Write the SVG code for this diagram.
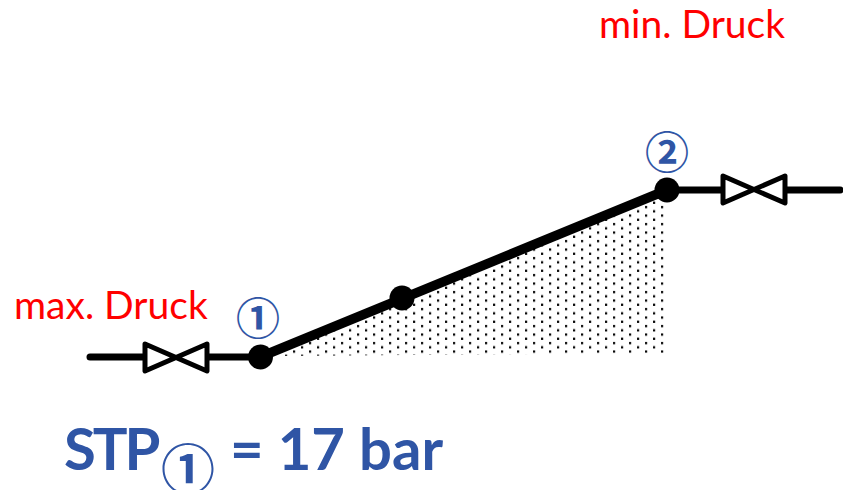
<svg xmlns="http://www.w3.org/2000/svg" width="843" height="490" viewBox="0 0 843 490">
<style>
.red{font-family:"Lato","Liberation Sans",sans-serif;font-size:39px;fill:#ff0000}
.circ{font-family:"Noto Sans CJK JP","DejaVu Sans",sans-serif;fill:#2f55a5;text-anchor:middle;font-weight:700}
.big{font-family:"Lato","Liberation Sans",sans-serif;font-size:58px;font-weight:700;fill:#2f55a5}
.pipe{fill:none;stroke:#000;stroke-width:7;stroke-linecap:round}
.valve{fill:#fff;stroke:#000;stroke-width:5;stroke-linejoin:round}
</style>
<defs>
<pattern id="dots" patternUnits="userSpaceOnUse" width="16" height="8.5">
<rect x="5" y="2" width="2.2" height="2.2" fill="#000"/>
<rect x="13" y="6.2" width="2.2" height="2.2" fill="#000"/>
</pattern>
</defs>
<polygon id="shade" points="268,356 665,192 665,353 268,356" fill="url(#dots)"/>
<g id="connectors">
<path class="pipe" d="M90 357H146"/>
<path class="pipe" d="M205 357H260"/>
<path class="pipe" style="stroke-width:9.5;stroke-linecap:butt" d="M260 357L667 190"/>
<path class="pipe" d="M667 190H724"/>
<path class="pipe" d="M784 190H840"/>
</g>
<g id="valve-left"><path class="valve" d="M145 344L207 371V344L145 371Z"/></g>
<g id="valve-right"><path class="valve" d="M723 176L785 203V176L723 203Z"/></g>
<g id="node-1"><circle cx="260.5" cy="357" r="12.5"/><text class="circ" x="258" y="335" font-size="44">①</text></g>
<g id="node-mid"><circle cx="402" cy="298" r="12.5"/></g>
<g id="node-2"><circle cx="667" cy="190" r="12.5"/><text class="circ" x="667" y="169" font-size="44">②</text></g>
<g id="labels">
<text class="red" x="14" y="319">max. Druck</text>
<text class="red" x="599" y="38">min. Druck</text>
<text class="big" x="64" y="470" letter-spacing="-3">STP</text>
<text class="circ" x="188" y="490" font-size="54">①</text>
<text class="big" x="230" y="470">= 17 bar</text>
</g>
</svg>
